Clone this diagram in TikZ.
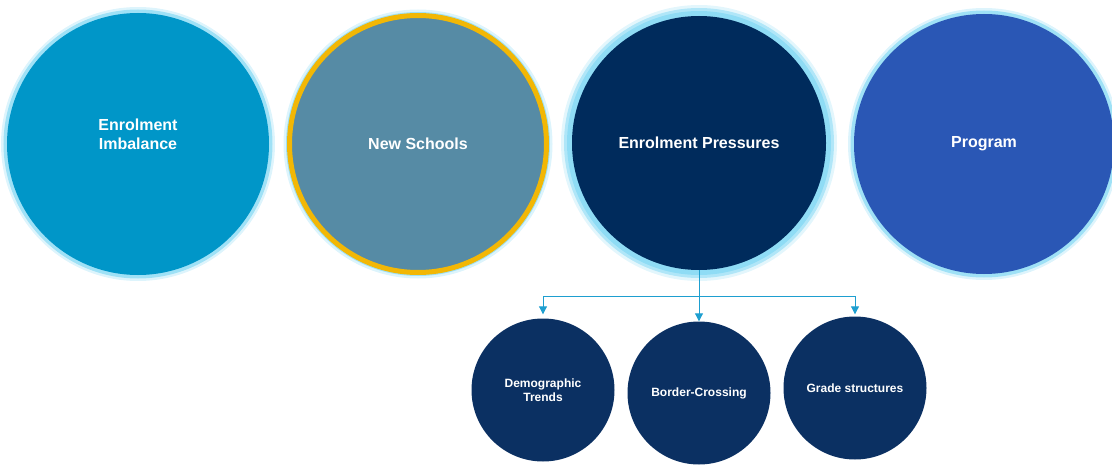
\documentclass[tikz,border=0pt]{standalone}
\usepackage{fontspec}
\setmainfont{Liberation Sans}
\usetikzlibrary{arrows.meta}
\definecolor{cA}{HTML}{0096C8}
\definecolor{cB}{HTML}{568BA5}
\definecolor{cC}{HTML}{002B5C}
\definecolor{cD}{HTML}{2A57B5}
\definecolor{gold}{HTML}{F2B705}
\definecolor{glowc}{HTML}{8FDCF5}
\definecolor{navy}{HTML}{0B3062}
\definecolor{link}{HTML}{1E9FD0}
\tikzset{
  glowing/.style={
    preaction={draw=glowc, line width=12pt, opacity=0.3},
    preaction={draw=glowc, line width=7pt, opacity=0.8}},
  bigglow/.style={
    preaction={draw=glowc, line width=22pt, opacity=0.25},
    preaction={draw=glowc, line width=16pt, opacity=0.6},
    preaction={draw=glowc, line width=10pt}},
  bigcirc/.style={circle, inner sep=0pt, text=white,
    font=\fontsize{16}{19}\selectfont\bfseries, align=center},
  smallcirc/.style={circle, inner sep=0pt, fill=navy, text=white,
    font=\fontsize{12}{14}\selectfont\bfseries, align=center, minimum size=143pt},
  labeltext/.style={text=white, font=\fontsize{16}{19}\selectfont\bfseries, align=center},
  linkline/.style={draw=link, line width=1pt},
  linkarrow/.style={linkline, -{Triangle[width=8pt,length=8pt]}}
}
\begin{document}
\begin{tikzpicture}[x=1pt,y=-1pt]
\useasboundingbox (0,0) rectangle (1112,468);
\node[bigcirc, glowing, fill=cA, minimum size=262pt] (c1) at (138,144) {};
\node[labeltext] (t1) at (138,134.5) {Enrolment\\Imbalance};
\node[bigcirc, glowing, fill=cB, draw=gold, line width=5pt, minimum size=257pt] (c2) at (418,144) {New Schools};
\node[bigcirc, bigglow, fill=cC, minimum size=254pt] (c3) at (699,143) {Enrolment Pressures};
\node[bigcirc, glowing, fill=cD, minimum size=260pt] (c4) at (984,144) {Program};

\node[smallcirc] (s1) at (543,390) {Demographic\\Trends};
\node[smallcirc] (s2) at (699,393) {\raisebox{-3pt}{Border-Crossing}};
\node[smallcirc] (s3) at (855,388) {Grade structures};

\coordinate (jn) at (699,296);
\draw[linkline] (c3.south) -- (jn);
\draw[linkarrow, shorten >=4pt] (jn) -| (s1.north);
\draw[linkarrow, shorten >=2pt] (jn) -| (s3.north);
\draw[linkarrow] (jn) -- (s2.north);
\end{tikzpicture}
\end{document}
